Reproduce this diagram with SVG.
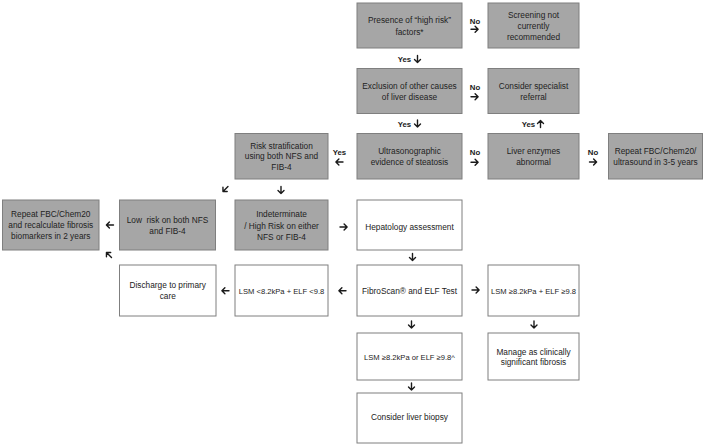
<svg xmlns="http://www.w3.org/2000/svg" xmlns:xlink="http://www.w3.org/1999/xlink" width="709" height="445" viewBox="0 0 709 445">
<defs>
<style>
.g{fill:#a6a6a6;stroke:#7f7f7f;stroke-width:1}
.w{fill:#ffffff;stroke:#7f7f7f;stroke-width:1}
text{font-family:"Liberation Sans",Arial,sans-serif;font-size:8.3px;fill:#222222;text-anchor:middle;white-space:pre}
.sm{font-size:7.6px}
.lb{font-weight:bold;font-size:7.8px;fill:#1a1a1a}
.a{fill:none;stroke:#1a1a1a;stroke-width:1.4;stroke-linecap:round;stroke-linejoin:round}
</style>
<path id="arr" d="M-3.5 0 H3.5 M0.6 -3 L3.6 0 L0.6 3"/>
</defs>
<rect width="709" height="445" fill="#ffffff"/>

<g id="presence"><rect class="g" x="357" y="3" width="105" height="45"/><text x="409.5" y="23">Presence of “high risk”</text><text x="409.5" y="34.5">factors*</text></g>
<g id="screening"><rect class="g" x="488" y="3" width="91" height="45"/><text x="533.5" y="18">Screening not</text><text x="533.5" y="28.8">currently</text><text x="533.5" y="39.6">recommended</text></g>
<g id="exclusion"><rect class="g" x="357" y="68.5" width="105" height="45"/><text x="409.5" y="88.5">Exclusion of other causes</text><text x="409.5" y="99.5">of liver disease</text></g>
<g id="specialist"><rect class="g" x="488" y="68.5" width="91" height="45"/><text x="533.5" y="88.5">Consider specialist</text><text x="533.5" y="99.5">referral</text></g>
<g id="risk"><rect class="g" x="235" y="133.5" width="93" height="45.5"/><text x="281.5" y="148.5">Risk stratification</text><text x="281.5" y="159">using both NFS and</text><text x="281.5" y="169.5">FIB-4</text></g>
<g id="ultra"><rect class="g" x="357" y="133.5" width="105" height="45.5"/><text x="409.5" y="154">Ultrasonographic</text><text x="409.5" y="164.5">evidence of steatosis</text></g>
<g id="enzymes"><rect class="g" x="488" y="133.5" width="91" height="45.5"/><text x="533.5" y="154">Liver enzymes</text><text x="533.5" y="164.5">abnormal</text></g>
<g id="repeat35"><rect class="g" x="608.5" y="133.5" width="94" height="45.5"/><text x="655.5" y="154">Repeat FBC/Chem20/</text><text x="655.5" y="164.5">ultrasound in 3-5 years</text></g>
<g id="repeat2"><rect class="g" x="2.5" y="200" width="96.5" height="50"/><text x="50.75" y="217">Repeat FBC/Chem20</text><text x="50.75" y="228">and recalculate fibrosis</text><text x="50.75" y="239">biomarkers in 2 years</text></g>
<g id="lowrisk"><rect class="g" x="119.5" y="200" width="96" height="50"/><text x="167.5" y="223">Low  risk on both NFS</text><text x="167.5" y="233.8">and FIB-4</text></g>
<g id="indeterminate"><rect class="g" x="235" y="200" width="93" height="50"/><text x="281.5" y="217.3">Indeterminate</text><text x="281.5" y="228.7">/ High Risk on either</text><text x="281.5" y="240.2">NFS or FIB-4</text></g>
<g id="hepatology"><rect class="w" x="357" y="200" width="105" height="50"/><text x="409.5" y="229.5">Hepatology assessment</text></g>
<g id="discharge"><rect class="w" x="119.5" y="265" width="96.5" height="51"/><text x="167.75" y="288">Discharge to primary</text><text x="167.75" y="299">care</text></g>
<g id="lsmlow"><rect class="w" x="235" y="265" width="93" height="51"/><text class="sm" x="281.5" y="293.5">LSM &lt;8.2kPa + ELF &lt;9.8</text></g>
<g id="fibroscan"><rect class="w" x="357" y="265" width="105" height="51"/><text x="409.5" y="294">FibroScan® and ELF Test</text></g>
<g id="lsmhigh"><rect class="w" x="488" y="265" width="91" height="51"/><text class="sm" x="533.5" y="294">LSM ≥8.2kPa + ELF ≥9.8</text></g>
<g id="lsmor"><rect class="w" x="357" y="333" width="105" height="47"/><text class="sm" x="409.5" y="359.5">LSM ≥8.2kPa or ELF ≥9.8^</text></g>
<g id="manage"><rect class="w" x="488" y="333" width="91" height="47"/><text x="533.5" y="354.5">Manage as clinically</text><text x="533.5" y="365">significant fibrosis</text></g>
<g id="biopsy"><rect class="w" x="357" y="393" width="105" height="50"/><text x="409.5" y="420">Consider liver biopsy</text></g>

<g id="connectors">
<use xlink:href="#arr" class="a" transform="translate(474.5,29.3)"/>
<use xlink:href="#arr" class="a" transform="translate(474.5,96.7)"/>
<use xlink:href="#arr" class="a" transform="translate(417.5,59) rotate(90)"/>
<use xlink:href="#arr" class="a" transform="translate(417.5,123.5) rotate(90)"/>
<use xlink:href="#arr" class="a" transform="translate(540.5,124) rotate(-90)"/>
<use xlink:href="#arr" class="a" transform="translate(474.5,162.3)"/>
<use xlink:href="#arr" class="a" transform="translate(593,162)"/>
<use xlink:href="#arr" class="a" transform="translate(339.5,162) rotate(180)"/>
<use xlink:href="#arr" class="a" transform="translate(281,190) rotate(90)"/>
<use xlink:href="#arr" class="a" transform="translate(225.5,189) rotate(135)"/>
<use xlink:href="#arr" class="a" transform="translate(343.5,227)"/>
<use xlink:href="#arr" class="a" transform="translate(110,225) rotate(180)"/>
<use xlink:href="#arr" class="a" transform="translate(109,255) rotate(-135)"/>
<use xlink:href="#arr" class="a" transform="translate(412.5,257) rotate(90)"/>
<use xlink:href="#arr" class="a" transform="translate(225.5,290.7) rotate(180)"/>
<use xlink:href="#arr" class="a" transform="translate(342.5,290.7) rotate(180)"/>
<use xlink:href="#arr" class="a" transform="translate(475.5,290)"/>
<use xlink:href="#arr" class="a" transform="translate(411.5,324.5) rotate(90)"/>
<use xlink:href="#arr" class="a" transform="translate(534,324.5) rotate(90)"/>
<use xlink:href="#arr" class="a" transform="translate(411.5,386.5) rotate(90)"/>
<text class="lb" x="475" y="23.5">No</text>
<text class="lb" x="475" y="89.5">No</text>
<text class="lb" x="404.5" y="62">Yes</text>
<text class="lb" x="404.5" y="126.5">Yes</text>
<text class="lb" x="528.5" y="127">Yes</text>
<text class="lb" x="475" y="154.5">No</text>
<text class="lb" x="593" y="155">No</text>
<text class="lb" x="339.5" y="155">Yes</text>
</g>
</svg>
